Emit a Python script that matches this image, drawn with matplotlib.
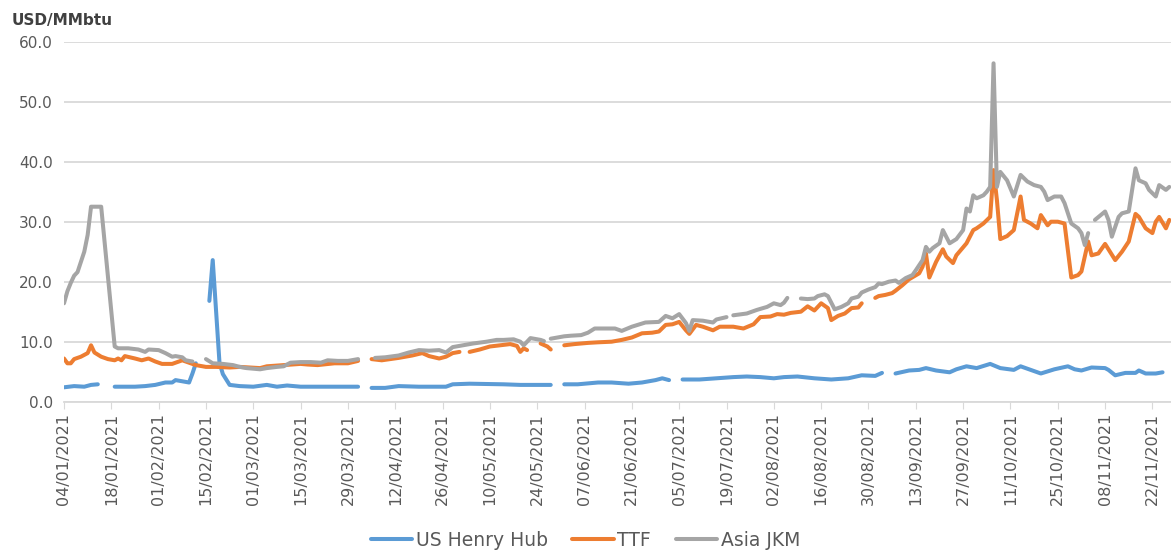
import matplotlib
matplotlib.use("Agg")
import matplotlib.pyplot as plt
import matplotlib.dates as mdates
import numpy as np
import pandas as pd

start = pd.Timestamp("2021-01-04")

# days since 04/01/2021, None = no quote (holiday gap)
hh_days = [0, 3, 6, 8, 10, 11, 15, 21, 24, 27, 30, 32, 33, 35, 37, 38, 39, 40,
           43, 44, 46, 47, 49, 52, 56, 60, 63, 66, 70, 77, 87, 88,
           91, 95, 99, 105, 113, 115, 120, 130, 135, 144, 146,
           148, 152, 158, 162, 167, 171, 175, 177, 179, 180,
           183, 188, 193, 198, 202, 206, 210, 213, 217, 222, 227, 232, 236, 240, 242, 244,
           246, 250, 253, 255, 258, 262, 264, 267, 270, 274, 277, 281, 283, 286, 289,
           293, 297, 299, 301, 304, 308, 309, 311, 314, 317, 318, 320, 323, 325]
hh_vals = [2.4, 2.6, 2.5, 2.8, 2.9, None, 2.5, 2.5, 2.6, 2.8, 3.2, 3.2, 3.6, 3.4, 3.2, 4.7, 6.4, None,
           16.8, 23.6, 6.5, 4.6, 2.8, 2.6, 2.5, 2.8, 2.5, 2.7, 2.5, 2.5, 2.5, None,
           2.3, 2.3, 2.6, 2.5, 2.5, 2.9, 3.0, 2.9, 2.8, 2.8, None,
           2.9, 2.9, 3.2, 3.2, 3.0, 3.2, 3.6, 3.9, 3.6, None,
           3.7, 3.7, 3.9, 4.1, 4.2, 4.1, 3.9, 4.1, 4.2, 3.9, 3.7, 3.9, 4.4, 4.3, 4.8, None,
           4.7, 5.2, 5.3, 5.6, 5.2, 4.9, 5.4, 5.9, 5.6, 6.3, 5.6, 5.3, 5.9, 5.3, 4.7,
           5.4, 5.9, 5.4, 5.2, 5.7, 5.6, 5.3, 4.4, 4.8, 4.8, 5.2, 4.7, 4.7, 4.9]

ttf_days = [0, 1, 2, 3, 5, 7, 8, 9, 11, 13, 15, 16, 17, 18, 21, 23, 25, 27, 29, 32, 35, 37, 39,
            42, 45, 49, 52, 55, 58, 60, 65, 70, 72, 75, 80, 84, 87, 89,
            91, 94, 99, 103, 106, 108, 111, 113, 115, 117, 118,
            120, 123, 126, 129, 132, 134, 135, 136, 137, 139,
            141, 143, 144, 146,
            148, 151, 155, 158, 162, 165, 168, 171, 174, 176, 178, 180, 182, 184, 185, 187,
            189, 192, 194, 198, 201, 204, 206, 209, 211, 213, 215, 218, 220, 222, 224, 226,
            227, 229, 231, 233, 235, 236, 237,
            240, 241, 243, 245, 246, 248, 250, 253, 254, 255, 256, 258, 260, 261, 263, 264,
            267, 269, 270, 272, 274, 275, 276, 277, 279, 281, 283, 284, 286, 288, 289, 291,
            292, 294, 296, 298, 300, 301, 303, 304, 306, 308, 311, 313, 315, 317, 318, 320,
            322, 323, 324, 326, 327]
ttf_vals = [7.2, 6.4, 6.4, 7.1, 7.5, 8.1, 9.4, 8.2, 7.5, 7.1, 6.9, 7.2, 6.9, 7.6, 7.2, 6.9, 7.2, 6.7, 6.3, 6.3, 6.9, 6.5, 6.1,
            5.8, 5.8, 5.7, 5.8, 5.7, 5.6, 5.9, 6.1, 6.3, 6.2, 6.1, 6.4, 6.4, 6.8, None,
            7.1, 6.9, 7.3, 7.7, 8.1, 7.6, 7.2, 7.5, 8.1, 8.3, None,
            8.3, 8.7, 9.2, 9.4, 9.6, 9.3, 8.3, 8.9, 8.6, None,
            9.7, 9.2, 8.7, None,
            9.4, 9.6, 9.8, 9.9, 10.0, 10.3, 10.7, 11.4, 11.5, 11.7, 12.8, 12.9, 13.3, 11.9, 11.3, 12.8,
            12.5, 11.9, 12.5, 12.5, 12.2, 12.9, 14.1, 14.2, 14.6, 14.5, 14.8, 15.0, 15.9, 15.2, 16.4, 15.6,
            13.6, 14.3, 14.7, 15.6, 15.7, 16.4, None,
            17.3, 17.6, 17.8, 18.1, 18.5, 19.4, 20.4, 21.4, 22.5, 24.7, 20.7, 23.3, 25.4, 24.2, 23.1, 24.4,
            26.4, 28.6, 28.9, 29.7, 30.8, 38.6, 33.6, 27.1, 27.6, 28.6, 34.2, 30.3, 29.7, 28.9, 31.1, 29.4,
            30.0, 30.0, 29.7, 20.7, 21.1, 21.7, 26.7, 24.4, 24.7, 26.3, 23.6, 25.0, 26.7, 31.3, 30.8, 28.9,
            28.1, 30.0, 30.8, 28.9, 30.3]

jkm_days = [0, 1, 2, 3, 4, 6, 7, 8, 11, 15, 16, 19, 22, 24, 25, 28, 30, 32, 33, 35, 36, 38, 39,
            42, 44, 47, 50, 52, 54, 58, 60, 63, 65, 67, 70, 73, 76, 78, 81, 84, 87, 89,
            92, 95, 99, 102, 105, 108, 111, 113, 115, 118, 121, 125, 128, 130, 133, 135, 136,
            138, 141, 142, 143,
            144, 148, 150, 153, 155, 157, 161, 163, 165, 168, 172, 176, 178, 180, 182, 184,
            185, 186, 189, 192, 193, 196, 197,
            198, 202, 205, 208, 210, 212, 213, 214, 216,
            218, 220, 222, 223, 225, 226, 228, 230, 232, 233, 235, 236, 238, 240, 241, 242,
            244, 246, 247, 249, 251, 252, 254, 255, 256, 257, 259, 260, 262, 264, 266, 267,
            268, 269, 270, 272, 273, 274, 275, 276, 277, 279, 281, 283, 285, 287, 289, 290,
            291, 293, 295, 296, 298, 300, 301, 302, 303, 304,
            305, 308, 309, 310, 312, 313, 315, 317, 318, 320, 321, 323, 324, 326, 327]
jkm_vals = [16.4, 18.4, 19.8, 21.0, 21.6, 25.0, 27.8, 32.5, 32.5, 9.2, 8.9, 8.9, 8.7, 8.3, 8.7, 8.6, 8.1, 7.5, 7.6, 7.4, 6.9, 6.7, None,
            7.1, 6.4, 6.3, 6.1, 5.8, 5.6, 5.4, 5.6, 5.8, 5.9, 6.5, 6.6, 6.6, 6.5, 6.9, 6.8, 6.8, 7.1, None,
            7.3, 7.4, 7.7, 8.2, 8.6, 8.5, 8.6, 8.2, 9.1, 9.4, 9.7, 10.0, 10.3, 10.3, 10.4, 10.0, 9.4,
            10.6, 10.3, 10.1, None,
            10.5, 10.9, 11.0, 11.1, 11.5, 12.2, 12.2, 12.2, 11.8, 12.5, 13.2, 13.3, 14.3, 13.9, 14.6, 13.1,
            11.8, 13.6, 13.5, 13.2, 13.7, 14.1, None,
            14.4, 14.7, 15.3, 15.8, 16.4, 16.1, 16.5, 17.3, None,
            17.2, 17.1, 17.2, 17.6, 17.9, 17.6, 15.4, 15.8, 16.4, 17.2, 17.5, 18.2, 18.7, 19.1, 19.7, 19.6,
            20.0, 20.2, 19.8, 20.6, 21.1, 21.9, 23.6, 25.8, 25.0, 25.6, 26.4, 28.6, 26.4, 27.1, 28.6, 32.2,
            31.7, 34.4, 33.9, 34.4, 35.0, 35.8, 56.4, 35.8, 38.3, 36.9, 34.2, 37.8, 36.7, 36.1, 35.8, 35.0,
            33.6, 34.2, 34.2, 33.1, 29.7, 28.9, 28.1, 26.1, 28.1, None,
            30.3, 31.7, 30.3, 27.5, 30.8, 31.4, 31.7, 38.9, 36.9, 36.4, 35.3, 34.2, 36.1, 35.3, 35.8]

series = [
    ("US Henry Hub", hh_days, hh_vals, "#5B9BD5"),
    ("TTF", ttf_days, ttf_vals, "#ED7D31"),
    ("Asia JKM", jkm_days, jkm_vals, "#A5A5A5"),
]

fig = plt.figure(figsize=(11.71, 5.51), dpi=100)
ax = fig.add_axes([64 / 1171, 1 - 401.7 / 551, (1171 - 64) / 1171, 360 / 551])

for name, days, vals, color in series:
    x = start + pd.to_timedelta(days, unit="D")
    y = np.array([np.nan if v is None else v for v in vals], dtype=float)
    ax.plot(x, y, color=color, lw=2.9, label=name, solid_joinstyle="round", solid_capstyle="round")

ax.set_ylim(0, 60)
ax.set_yticks(np.arange(0, 61, 10))
ax.yaxis.set_major_formatter(matplotlib.ticker.FormatStrFormatter("%.1f"))
ax.set_xlim(start, start + pd.Timedelta(days=327.5))
ticks = [start + pd.Timedelta(days=14 * k) for k in range(24)]
ax.set_xticks(ticks)
ax.xaxis.set_major_formatter(mdates.DateFormatter("%d/%m/%Y"))
plt.setp(ax.get_xticklabels(), rotation=90)

ax.grid(axis="y", color="#D9D9D9", lw=1.3)
ax.set_axisbelow(True)
for s in ["top", "right", "left"]:
    ax.spines[s].set_visible(False)
ax.spines["bottom"].set_color("#D9D9D9")
ax.spines["bottom"].set_linewidth(1.3)
ax.tick_params(axis="y", length=0, labelsize=11, labelcolor="#595959", pad=8)
ax.tick_params(axis="x", length=5, color="#D9D9D9", labelsize=11.5, labelcolor="#595959", pad=3)

fig.text(12 / 1171, 1 - 20 / 551, "USD/MMbtu", fontsize=11, fontweight="bold", color="#404040", va="center")

fig.legend(loc="center", bbox_to_anchor=(0.5, 1 - 540 / 551), ncol=3, frameon=False,
           fontsize=13.5, handlelength=2.2, columnspacing=1.3, handletextpad=0.2,
           labelcolor="#595959")

fig.savefig("out.png", dpi=100)
